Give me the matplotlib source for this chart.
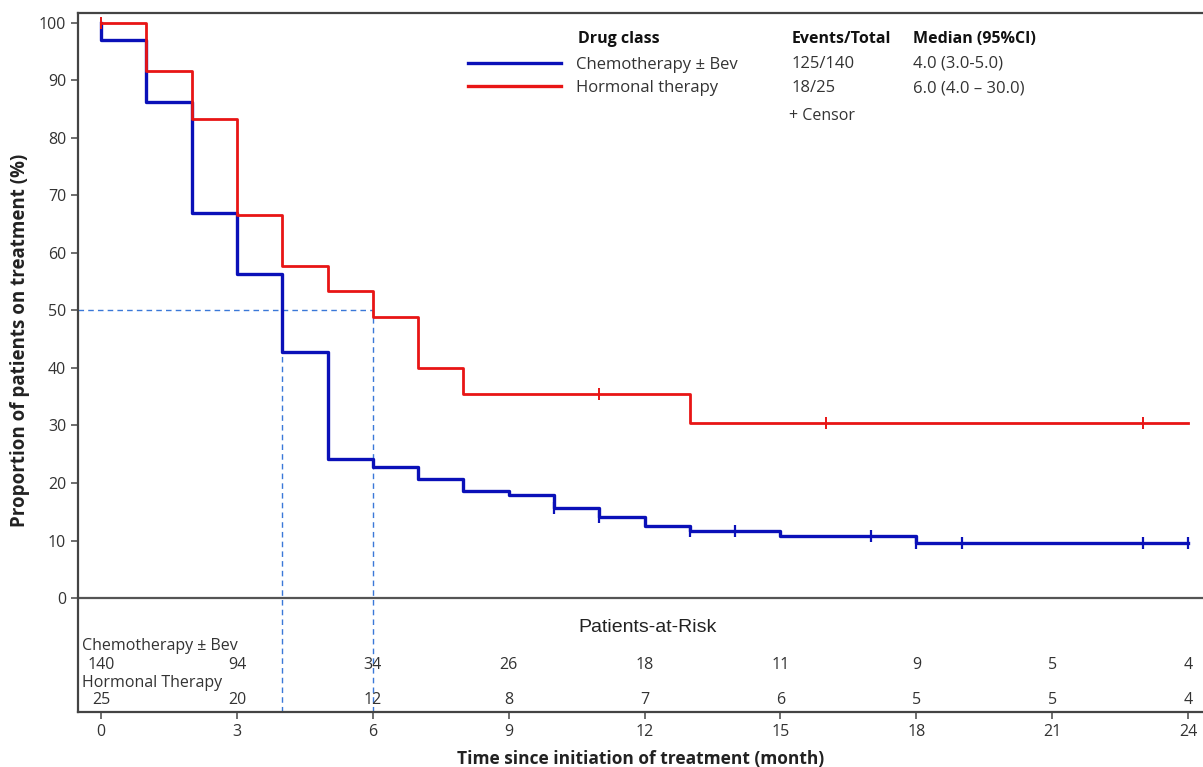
import numpy as np
import matplotlib; matplotlib.use("Agg")
import matplotlib.pyplot as plt
from matplotlib.lines import Line2D

plt.rcParams['font.family'] = ['Open Sans', 'DejaVu Sans']

# ------------------------------------------------------------ KM step data
chemo_t   = [0, 0, 1, 2, 3, 4, 5, 6, 7, 8, 9, 10, 11, 12, 13, 15, 18, 24]
chemo_s   = [100, 97.0, 86.3, 67.0, 56.3, 42.8, 24.2, 22.7, 20.7, 18.6, 17.9,
             15.6, 14.1, 12.6, 11.7, 10.8, 9.5, 9.5]
chemo_cens = [10, 11, 13, 14, 17, 18, 19, 23, 24]

horm_t    = [0, 1, 2, 3, 4, 5, 6, 7, 8, 13, 24]
horm_s    = [100, 91.7, 83.3, 66.6, 57.8, 53.3, 48.8, 40.0, 35.5, 30.4, 30.4]
horm_cens = [0, 11, 16, 23]

medians = [4.0, 6.0]   # months

risk_times = [0, 3, 6, 9, 12, 15, 18, 21, 24]
risk_chemo = [140, 94, 34, 26, 18, 11, 9, 5, 4]
risk_horm  = [25, 20, 12, 8, 7, 6, 5, 5, 4]

groups  = ["Chemotherapy \u00b1 Bev", "Hormonal therapy"]
events  = ["125/140", "18/25"]
med_ci  = ["4.0 (3.0-5.0)", "6.0 (4.0 \u2013 30.0)"]

BLUE, RED, DASH = "#0a10b8", "#e81515", "#3a78d8"
TXT = "#333333"


def surv_at(t, times, surv):
    idx = np.searchsorted(times, t, side="right") - 1
    return np.array(surv)[idx]


fig = plt.figure(figsize=(12.03, 7.67), dpi=100)
ax = fig.add_axes([78/1203, 55/767, 1 - 78/1203, (712-13)/767])
ax.set_xlim(-0.51, 24.33)
ax.set_ylim(-19.8, 101.7)

# median reference lines
ax.plot([-0.51, medians[1]], [50, 50], ls=(0, (4, 3)), color=DASH, lw=1)
for m in medians:
    ax.plot([m, m], [-19.8, 50], ls=(0, (4, 3)), color=DASH, lw=1)

ax.step(chemo_t, chemo_s, where="post", color=BLUE, lw=2.4)
ax.step(horm_t, horm_s, where="post", color=RED, lw=2.0)
ax.plot(chemo_cens, surv_at(chemo_cens, chemo_t, chemo_s), ls="none",
        marker="|", ms=9, mew=1.6, color=BLUE)
ax.plot(horm_cens, surv_at(horm_cens, horm_t, horm_s), ls="none",
        marker="|", ms=9, mew=1.4, color=RED)

ax.axhline(0, color="#555555", lw=1.6)

# axes styling
for s in ("top", "left", "bottom"):
    ax.spines[s].set_color("#444444")
    ax.spines[s].set_linewidth(1.6)
ax.spines["right"].set_visible(False)
ax.set_yticks(range(0, 101, 10))
ax.set_xticks(risk_times)
ax.tick_params(colors="#555555", labelcolor=TXT, labelsize=11.5, length=5, width=1.2)
ax.set_xlabel("Time since initiation of treatment (month)", fontsize=12.5,
              fontweight="bold", color="#222222", labelpad=7)
ax.set_ylabel("Proportion of patients on treatment (%)", fontsize=13.5,
              fontweight="bold", color="#222222")
ax.yaxis.set_label_coords(-0.0425, 0.531)

# legend block
handles = [Line2D([], [], color=BLUE, lw=2.4), Line2D([], [], color=RED, lw=2.4)]
leg = ax.legend(handles, groups, loc="upper left", bbox_to_anchor=(0.3467, 0.937),
                frameon=False, handlelength=5.6, handletextpad=0.85,
                labelspacing=0.42, fontsize=12, borderpad=0, borderaxespad=0)
for t in leg.get_texts():
    t.set_color(TXT)
hdr = dict(fontsize=11.5, fontweight="bold", color="#111111", va="center")
ax.text(10.53, 97.1, "Drug class", **hdr)
ax.text(15.25, 97.1, "Events/Total", **hdr)
ax.text(17.92, 97.1, "Median (95%CI)", **hdr)
for i, (ev, md) in enumerate(zip(events, med_ci)):
    y = 92.9 - i * 4.3
    ax.text(15.25, y, ev, fontsize=12, color=TXT, va="center")
    ax.text(17.92, y, md, fontsize=12, color=TXT, va="center")
ax.text(15.18, 83.8, "+ Censor", fontsize=11.5, color=TXT, va="center")

# patients-at-risk table
ax.text(12.07, -5.1, "Patients-at-Risk", fontsize=14, color="#222222", ha="center",
        va="center", family=["Liberation Sans", "DejaVu Sans"])
ax.text(-0.42, -8.4, "Chemotherapy \u00b1 Bev", fontsize=11.5, color=TXT, va="center")
ax.text(-0.42, -14.8, "Hormonal Therapy", fontsize=11.5, color=TXT, va="center")
for t, a, b in zip(risk_times, risk_chemo, risk_horm):
    ax.text(t, -11.7, str(a), fontsize=11.5, color=TXT, ha="center", va="center")
    ax.text(t, -17.8, str(b), fontsize=11.5, color=TXT, ha="center", va="center")

fig.savefig("out.png", dpi=100)
